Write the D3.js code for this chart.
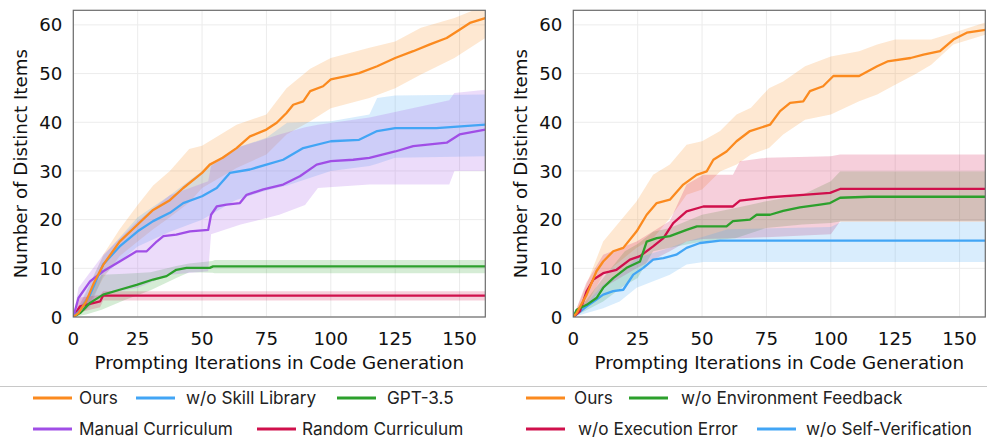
<!DOCTYPE html>
<html lang="en">
<head>
  <meta charset="UTF-8">
  <title>Distinct Items vs Prompting Iterations</title>
  <style>
    body { margin: 0; background: #fff; }
    .tick-label { font-family: "DejaVu Sans", sans-serif; font-size: 18.2px; fill: #111; }
    .axis-title { font-family: "DejaVu Sans", sans-serif; font-size: 18.3px; fill: #111; }
    .legend-text { font-family: Inter, "Noto Sans", sans-serif; font-size: 17.2px; fill: #222; }
  </style>
</head>
<body>
<svg id="chart" width="987" height="438"></svg>

<script src="https://d3js.org/d3.v7.min.js"></script>
<script>
  // ---- data: left panel ----
  const oursL_x = [0, 2, 5, 8, 11.6, 18, 25, 31, 37.5, 42.7, 50, 53, 58, 63.4, 68.6, 75, 79, 82.8, 85.4, 89.3, 92, 97, 100, 106, 111, 118, 125, 132, 138.5, 145, 150, 154, 160];
  const oursL_y = [0, 0.8, 3.2, 7, 10.7, 15.5, 19, 22, 24, 26.5, 29.6, 31.3, 32.7, 34.7, 37.1, 38.5, 39.9, 41.9, 43.6, 44.3, 46.4, 47.4, 48.8, 49.5, 50.1, 51.5, 53.2, 54.6, 56, 57.3, 59, 60.4, 61.4];
  const oursL_bx = [0, 5, 11.6, 18, 25, 31, 37.5, 45, 50, 63.4, 75, 82.8, 92, 100, 115, 125, 135, 148, 160];
  const oursL_hi = [0, 5, 12.8, 18, 23, 27, 30, 34.5, 35.2, 39.5, 41.6, 47, 51, 53.2, 55.3, 56.6, 59.4, 61.4, 64];
  const oursL_lo = [0, 1.5, 8, 12.5, 15.5, 18, 20.5, 23.5, 26.5, 30.6, 33.4, 37.5, 40.2, 42.9, 45, 47, 49.8, 53.2, 57.3];

  const skill_x = [0, 3, 6.5, 11.6, 18, 25, 31, 37.5, 42.7, 50, 55.7, 60.8, 68.6, 75, 81.5, 89.3, 100, 111, 118, 125, 141, 160];
  const skill_y = [0, 1.5, 4.6, 10.8, 14.5, 17.6, 19.7, 21.4, 23.4, 24.8, 26.5, 29.6, 30.3, 31.3, 32.3, 34.7, 36.1, 36.4, 38.2, 38.8, 38.8, 39.5];
  const skill_bx = [0, 6.5, 11.6, 25, 37.5, 50, 63, 75, 83, 100, 115, 118, 125, 160];
  const skill_hi = [0, 7, 12.5, 20.5, 25, 30, 34.7, 36.8, 39.9, 40.2, 41.6, 45, 45.5, 45.7];
  const skill_lo = [0, 2, 8.5, 14.5, 17.5, 20, 24, 26, 27, 30, 31, 31.5, 32.7, 33];

  const gpt_x = [0, 2.6, 6.5, 11.6, 18, 24.6, 31, 36.2, 40, 44, 53, 54.3, 160];
  const gpt_y = [0, 0.8, 2.9, 4.6, 5.6, 6.6, 7.7, 8.4, 9.7, 10.1, 10.1, 10.4, 10.4];
  const gpt_bx = [0, 5, 11, 20, 30, 40, 45, 54, 55, 160];
  const gpt_hi = [0, 4, 8.7, 8.9, 9.2, 10.5, 11, 11.5, 11.7, 11.7];
  const gpt_lo = [0, 0.5, 1.5, 3.5, 5.5, 8, 9.2, 9.1, 9.0, 9.0];

  const manual_x = [0, 2, 6.5, 11.6, 18, 24.6, 28.5, 32.4, 35, 40, 45.3, 52.4, 53.5, 55.7, 59.5, 64.7, 67.3, 73.8, 81.5, 88, 94.5, 100, 108.7, 115, 125, 132, 145, 150, 160];
  const manual_y = [0, 3.9, 7.3, 9.4, 11.4, 13.5, 13.5, 15.5, 16.6, 16.9, 17.6, 17.9, 21, 22.7, 23.1, 23.4, 25.1, 26.2, 27.2, 28.9, 31.3, 32, 32.3, 32.7, 34, 35.1, 35.8, 37.5, 38.5];
  const manual_bx = [0, 2, 11.6, 25, 37.5, 52.4, 53.5, 65, 80, 90, 95, 115, 146, 148, 160];
  const manual_hi = [0, 6, 12.8, 19.7, 25, 27.9, 31, 35, 37.5, 39, 39.5, 41, 44.5, 46, 46.7];
  const manual_lo = [0, 1, 4.6, 6, 8.7, 9.4, 17, 19, 21, 23, 26.5, 27.2, 27.2, 30, 30];

  const random_x = [0, 2.6, 10.4, 11.6, 160];
  const random_y = [0, 2.2, 3.2, 4.4, 4.4];
  const random_bx = [0, 2.6, 10.4, 11.6, 160];
  const random_hi = [0, 4, 4.5, 5.3, 5.3];
  const random_lo = [0, 1, 2, 3.4, 3.4];

  // ---- data: right panel ----
  const oursR_x = [0, 1.3, 5.2, 9, 11.6, 15.5, 19.4, 24.6, 28.5, 32.4, 37.5, 42.7, 47.9, 51.8, 54.4, 59.5, 63.4, 68.6, 76.4, 80.3, 84.2, 89.3, 91.9, 97, 101, 111, 118, 122, 131, 136, 142.4, 147.6, 152.8, 160];
  const oursR_y = [0, 0.8, 4.6, 9.4, 11.4, 13.5, 14.2, 17.6, 21, 23.4, 24.1, 27.2, 29.2, 29.9, 32.3, 34, 36.1, 38.2, 39.5, 42.3, 44, 44.3, 46.4, 47.4, 49.5, 49.5, 51.5, 52.5, 53.2, 53.9, 54.6, 57, 58.4, 59];
  const oursR_bx = [0, 5, 11.6, 24.6, 31, 37.5, 44, 50, 57, 63.4, 69, 76, 81.5, 90, 100, 111, 118, 125, 132.6, 139, 147.6, 160];
  const oursR_hi = [0, 6.5, 15.5, 23.8, 29.2, 31.3, 35.4, 36.1, 38.2, 41.6, 43, 47, 48.4, 51.5, 53.5, 54.6, 56, 57, 57, 57, 58.4, 60.5];
  const oursR_lo = [0, 2.5, 8.7, 14.2, 16.2, 20.3, 25.1, 26.2, 29.9, 31.3, 33.4, 34.7, 37.5, 40.5, 41.6, 44.3, 45.7, 47.7, 49.8, 51.8, 56, 58];

  const envfb_x = [0, 1.3, 5.2, 9, 11.6, 15.5, 20.7, 25.9, 28.5, 32.4, 37.5, 44, 48, 59.5, 62, 68.6, 71.2, 76.4, 81.5, 88, 95.8, 99.7, 103.6, 115, 160];
  const envfb_y = [0, 1.5, 2.5, 3.9, 6, 8, 10.1, 11.4, 15.5, 16.2, 16.6, 17.9, 18.6, 18.6, 19.7, 20, 21, 21, 21.8, 22.5, 23.1, 23.4, 24.5, 24.7, 24.7];
  const envfb_bx = [0, 11.6, 20, 25, 31, 37.5, 50, 63, 75, 89, 100, 103.6, 160];
  const envfb_hi = [0, 8, 13.5, 15, 17.5, 18.3, 21, 22.4, 23.8, 25.1, 27.9, 29.9, 29.9];
  const envfb_lo = [0, 3.2, 6.5, 8, 13.5, 14.2, 15.5, 16.2, 18.3, 19, 19.3, 19.6, 19.6];

  const execerr_x = [0, 2.6, 5.2, 7.8, 11.6, 16.8, 22, 25.9, 31, 35, 38.8, 44, 50.5, 62, 64.7, 76.4, 89.3, 99.7, 103.6, 160];
  const execerr_y = [0, 1.2, 5.3, 7.7, 9, 9.7, 11.8, 12.5, 14.5, 16.2, 19.3, 21.7, 22.7, 22.7, 23.9, 24.6, 25.1, 25.5, 26.3, 26.3];
  const execerr_bx = [0, 5, 11.6, 24.6, 37.5, 44, 50.5, 62, 64.7, 75, 100, 103.6, 160];
  const execerr_hi = [0, 7, 12.8, 15.5, 19.7, 27.2, 29.2, 29.2, 32, 32.7, 33, 33.4, 33.4];
  const execerr_lo = [0, 2, 6, 10, 13.5, 15.5, 16, 16.2, 16.2, 16.4, 17, 19.6, 19.6];

  const selfver_x = [0, 5.2, 9, 11.6, 15.5, 19.4, 23.3, 27.2, 31, 35, 40, 44, 49.2, 57, 160];
  const selfver_y = [0, 2.2, 3.6, 4.6, 5.3, 5.6, 8.7, 10.1, 11.8, 12.1, 12.8, 14.2, 15.2, 15.7, 15.7];
  const selfver_bx = [0, 11.6, 18, 24.6, 37.5, 44, 50.5, 60, 100, 104, 160];
  const selfver_hi = [0, 6.6, 9, 12.1, 14.2, 15.5, 16.5, 18, 18.5, 19.5, 19.5];
  const selfver_lo = [0, 1.8, 3.2, 6, 8.7, 10.8, 11.3, 11.3, 11.3, 11.3, 11.3];

  const xTicks = [0, 25, 50, 75, 100, 125, 150];
  const yTicks = [0, 10, 20, 30, 40, 50, 60];

  const C = {
    orange: '#fb8a1f',
    blue: '#42a5f5',
    green: '#2ca02c',
    purple: '#a04ee6',
    red: '#d0104c'
  };

  const leftSeries = [
    { name: 'Ours', color: C.orange, x: oursL_x, y: oursL_y, bx: oursL_bx, hi: oursL_hi, lo: oursL_lo },
    { name: 'w/o Skill Library', color: C.blue, x: skill_x, y: skill_y, bx: skill_bx, hi: skill_hi, lo: skill_lo },
    { name: 'GPT-3.5', color: C.green, x: gpt_x, y: gpt_y, bx: gpt_bx, hi: gpt_hi, lo: gpt_lo },
    { name: 'Manual Curriculum', color: C.purple, x: manual_x, y: manual_y, bx: manual_bx, hi: manual_hi, lo: manual_lo },
    { name: 'Random Curriculum', color: C.red, x: random_x, y: random_y, bx: random_bx, hi: random_hi, lo: random_lo }
  ];
  const rightSeries = [
    { name: 'Ours', color: C.orange, x: oursR_x, y: oursR_y, bx: oursR_bx, hi: oursR_hi, lo: oursR_lo },
    { name: 'w/o Environment Feedback', color: C.green, x: envfb_x, y: envfb_y, bx: envfb_bx, hi: envfb_hi, lo: envfb_lo },
    { name: 'w/o Execution Error', color: C.red, x: execerr_x, y: execerr_y, bx: execerr_bx, hi: execerr_hi, lo: execerr_lo },
    { name: 'w/o Self-Verification', color: C.blue, x: selfver_x, y: selfver_y, bx: selfver_bx, hi: selfver_hi, lo: selfver_lo }
  ];

  const svg = d3.select('#chart');
  const plotTop = 10.3, plotBottom = 317, plotW = 412;

  function drawPanel(left, series, clipId) {
    const x = d3.scaleLinear().domain([0, 160]).range([left, left + plotW]);
    const y = d3.scaleLinear().domain([0, 63]).range([plotBottom, plotTop]);
    const g = svg.append('g');

    g.append('clipPath').attr('id', clipId)
      .append('rect').attr('x', left).attr('y', plotTop).attr('width', plotW).attr('height', plotBottom - plotTop);

    // grid
    g.selectAll('.gx').data(xTicks).enter().append('line')
      .attr('x1', d => x(d)).attr('x2', d => x(d)).attr('y1', plotTop).attr('y2', plotBottom)
      .attr('stroke', '#ececec').attr('stroke-width', 1);
    g.selectAll('.gy').data(yTicks).enter().append('line')
      .attr('x1', left).attr('x2', left + plotW).attr('y1', d => y(d)).attr('y2', d => y(d))
      .attr('stroke', '#ececec').attr('stroke-width', 1);

    const plot = g.append('g').attr('clip-path', `url(#${clipId})`);

    const area = d3.area().x(d => x(d[0])).y0(d => y(d[1])).y1(d => y(d[2]));
    const line = d3.line().x(d => x(d[0])).y(d => y(d[1]));

    // bands
    series.forEach(s => {
      const pts = s.bx.map((v, i) => [v, s.lo[i], s.hi[i]]);
      plot.append('path').attr('d', area(pts))
        .attr('fill', s.color).attr('fill-opacity', 0.2).attr('stroke', 'none');
    });
    // lines, first series drawn last (on top)
    series.slice().reverse().forEach(s => {
      const pts = s.x.map((v, i) => [v, s.y[i]]);
      plot.append('path').attr('d', line(pts))
        .attr('fill', 'none').attr('stroke', s.color).attr('stroke-width', 2.3)
        .attr('stroke-linejoin', 'round');
    });

    // frame
    g.append('rect').attr('x', left).attr('y', plotTop).attr('width', plotW).attr('height', plotBottom - plotTop)
      .attr('fill', 'none').attr('stroke', '#6b6b6b').attr('stroke-width', 1.2);

    // tick labels
    g.selectAll('.xt').data(xTicks).enter().append('text')
      .attr('class', 'tick-label').attr('x', d => x(d)).attr('y', 344.5)
      .attr('text-anchor', 'middle').text(d => d);
    g.selectAll('.yt').data(yTicks).enter().append('text')
      .attr('class', 'tick-label').attr('x', left - 11).attr('y', d => y(d))
      .attr('dy', '0.36em').attr('text-anchor', 'end').text(d => d);

    // axis titles
    g.append('text').attr('class', 'axis-title')
      .attr('x', left + plotW / 2).attr('y', 369).attr('text-anchor', 'middle')
      .text('Prompting Iterations in Code Generation');
    g.append('text').attr('class', 'axis-title')
      .attr('transform', `translate(${left - 53},${(plotTop + plotBottom) / 2}) rotate(-90)`)
      .attr('dy', '0.36em').attr('text-anchor', 'middle')
      .text('Number of Distinct Items');
  }

  drawPanel(73.3, leftSeries, 'clipL');
  drawPanel(573.3, rightSeries, 'clipR');

  // legend separator
  svg.append('line').attr('x1', 0).attr('x2', 987).attr('y1', 386.5).attr('y2', 386.5)
    .attr('stroke', '#c8c8c8').attr('stroke-width', 1);

  // legend entries: [series, lineX, textX, rowY]
  const legendItems = [
    [leftSeries[0], 33, 79, 398],
    [leftSeries[1], 136, 186, 398],
    [leftSeries[2], 337, 387, 398],
    [leftSeries[3], 33, 79, 429],
    [leftSeries[4], 257, 302, 429],
    [rightSeries[0], 526, 574, 398],
    [rightSeries[1], 629, 681, 398],
    [rightSeries[2], 526, 578, 429],
    [rightSeries[3], 757, 806, 429]
  ];
  const lg = svg.append('g');
  legendItems.forEach(([s, lx, tx, ry]) => {
    lg.append('line').attr('x1', lx).attr('x2', lx + 39).attr('y1', ry).attr('y2', ry)
      .attr('stroke', s.color).attr('stroke-width', 3);
    lg.append('text').attr('class', 'legend-text').attr('x', tx).attr('y', ry)
      .attr('dy', '0.36em').text(s.name);
  });
</script>
</body>
</html>
